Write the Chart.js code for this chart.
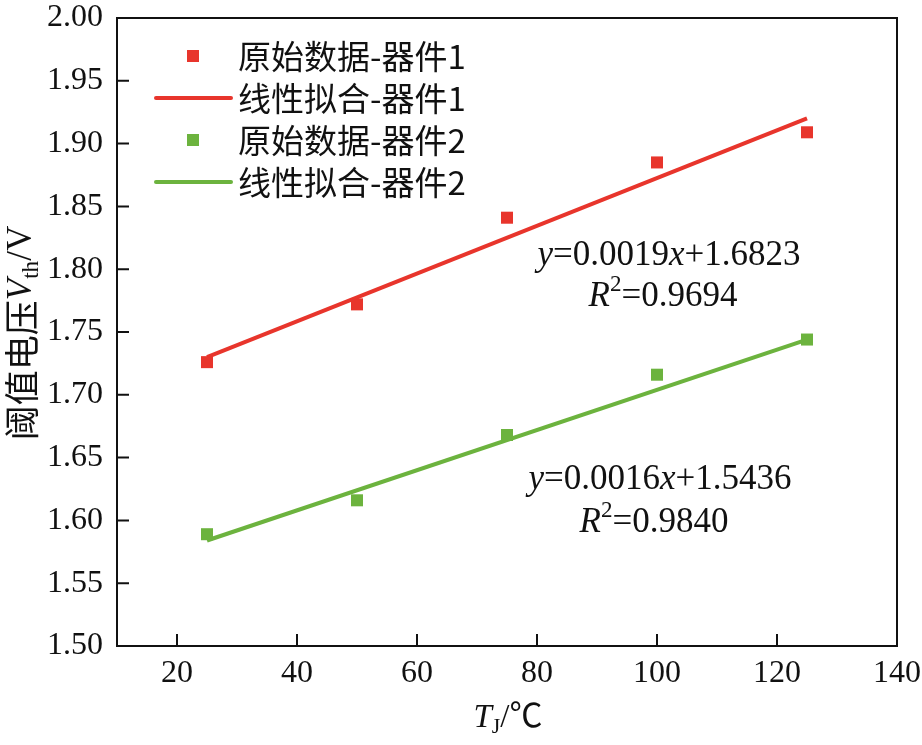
<!DOCTYPE html>
<html lang="zh">
<head>
  <meta charset="utf-8">
  <title>阈值电压 vs 结温</title>
  <style>
    * { box-sizing:border-box; margin:0; padding:0 }
    body { background:#fff; }
    #wrap { width:922px; height:745px; }
  </style>
</head>
<body>
  <div id="wrap"><canvas id="chart" width="922" height="745"></canvas></div>

  <script src="https://cdn.jsdelivr.net/npm/chart.js@4.4.1/dist/chart.umd.min.js"></script>
  <script>
  // data
  const temps     = [25, 50, 75, 100, 125];
  const device1   = [1.726, 1.772, 1.841, 1.885, 1.909];
  const device2   = [1.589, 1.616, 1.668, 1.716, 1.744];
  const fitX      = [25, 125];
  const fit1      = [1.730, 1.920];
  const fit2      = [1.584, 1.744];
  const xTicks    = [20, 40, 60, 80, 100, 120, 140];
  const yTicks    = [1.50, 1.55, 1.60, 1.65, 1.70, 1.75, 1.80, 1.85, 1.90, 1.95, 2.00];
  const labels    = ['原始数据-器件1', '线性拟合-器件1', '原始数据-器件2', '线性拟合-器件2'];
  const eqText1   = ['0.0019', '1.6823', '0.9694'];
  const eqText2   = ['0.0016', '1.5436', '0.9840'];

  const RED   = '#e8352c';
  const GREEN = '#6cb33e';
  const SERIF = "'Liberation Serif', 'Times New Roman', 'Noto Sans CJK SC', serif";
  const CJK   = "'Noto Sans CJK SC', 'Liberation Serif', serif";

  const pts = (xs, ys) => xs.map((x, i) => ({ x, y: ys[i] }));

  // draws a run of text pieces; returns width (measure only if draw false)
  function runText(ctx, parts, x, y, size, draw) {
    let w = 0;
    parts.forEach(p => {
      const s = p.sub || p.sup ? size * 0.66 : size;
      ctx.font = (p.italic ? 'italic ' : '') + s + 'px ' + (p.cjk ? CJK : SERIF);
      const dy = p.sub ? size * 0.28 : p.sup ? -size * 0.34 : 0;
      if (draw) ctx.fillText(p.t, x + w, y + dy);
      w += ctx.measureText(p.t).width;
    });
    return w;
  }
  function centered(ctx, parts, cx, cy, size) {
    ctx.textBaseline = 'middle';
    ctx.textAlign = 'left';
    const w = runText(ctx, parts, 0, 0, size, false);
    runText(ctx, parts, cx - w / 2, cy, size, true);
  }

  const decor = {
    id: 'decor',
    afterDraw(chart) {
      const { ctx, chartArea: a, scales: { x, y } } = chart;
      ctx.save();
      ctx.fillStyle = '#111';
      ctx.strokeStyle = '#111';

      // frame + inward ticks
      ctx.lineWidth = 2;
      ctx.strokeRect(a.left, a.top, a.right - a.left, a.bottom - a.top);
      ctx.beginPath();
      x.ticks.forEach(t => {
        const px = x.getPixelForValue(t.value);
        if (px > a.left + 2 && px < a.right - 2) { ctx.moveTo(px, a.bottom); ctx.lineTo(px, a.bottom - 12); }
      });
      y.ticks.forEach(t => {
        const py = y.getPixelForValue(t.value);
        if (py > a.top + 2 && py < a.bottom - 2) { ctx.moveTo(a.left, py); ctx.lineTo(a.left + 12, py); }
      });
      ctx.stroke();

      // legend
      const rows = [56, 98, 140, 182];
      chart.data.datasets.forEach((d, k) => {
        const ry = rows[k];
        if (d.showLine) {
          ctx.strokeStyle = d.borderColor;
          ctx.lineWidth = 4;
          ctx.lineCap = 'round';
          ctx.beginPath(); ctx.moveTo(156, ry); ctx.lineTo(231, ry); ctx.stroke();
        } else {
          ctx.fillStyle = d.backgroundColor;
          ctx.fillRect(187, ry - 6, 12, 12);
        }
        ctx.fillStyle = '#111';
        ctx.font = '33px ' + CJK;
        ctx.textBaseline = 'middle';
        ctx.textAlign = 'left';
        ctx.fillText(d.label, 238, ry);
      });

      // fit equations
      const eq = (t, cx, cy1, cy2) => {
        centered(ctx, [{ t: 'y', italic: true }, { t: '=' + t[0] }, { t: 'x', italic: true }, { t: '+' + t[1] }],
          x.getPixelForValue(cx), y.getPixelForValue(cy1), 35);
        centered(ctx, [{ t: 'R', italic: true }, { t: '2', sup: true }, { t: '=' + t[2] }],
          x.getPixelForValue(cx - 1), y.getPixelForValue(cy2), 35);
      };
      eq(eqText1, 102, 1.811, 1.778);
      eq(eqText2, 100.5, 1.632, 1.598);

      // axis titles
      centered(ctx, [{ t: 'T', italic: true }, { t: 'J', sub: true }, { t: '/℃' }], 508, 718, 33);
      ctx.translate(22, 333);
      ctx.rotate(-Math.PI / 2);
      centered(ctx, [{ t: '阈值电压', cjk: true }, { t: 'V', italic: true }, { t: 'th', sub: true }, { t: '/V' }], 0, 0, 35);
      ctx.restore();
    }
  };

  new Chart(document.getElementById('chart'), {
    type: 'scatter',
    data: {
      datasets: [
        { label: labels[0], data: pts(temps, device1), backgroundColor: RED, borderWidth: 0,
          pointStyle: 'rect', pointRadius: 8.5, order: 0 },
        { label: labels[1], data: pts(fitX, fit1), showLine: true, borderColor: RED, borderWidth: 4,
          pointRadius: 0, order: 1 },
        { label: labels[2], data: pts(temps, device2), backgroundColor: GREEN, borderWidth: 0,
          pointStyle: 'rect', pointRadius: 8.5, order: 0 },
        { label: labels[3], data: pts(fitX, fit2), showLine: true, borderColor: GREEN, borderWidth: 4,
          pointRadius: 0, order: 1 }
      ]
    },
    options: {
      responsive: false,
      animation: false,
      layout: { padding: { top: 18, right: 25, left: 0, bottom: 0 } },
      plugins: { legend: { display: false }, tooltip: { enabled: false } },
      scales: {
        x: {
          type: 'linear', min: 10, max: 140,
          afterBuildTicks: s => { s.ticks = xTicks.map(v => ({ value: v })); },
          afterFit: s => { s.height = 99; s.paddingLeft = 0; s.paddingRight = 0; },
          grid: { display: false, drawTicks: false },
          border: { display: false },
          ticks: { color: '#111', padding: 8, font: { family: SERIF, size: 32 } }
        },
        y: {
          type: 'linear', min: 1.5, max: 2.0,
          afterBuildTicks: s => { s.ticks = yTicks.map(v => ({ value: v })); },
          afterFit: s => { s.width = 117; s.paddingTop = 0; s.paddingBottom = 0; },
          grid: { display: false, drawTicks: false },
          border: { display: false },
          ticks: { color: '#111', padding: 14, font: { family: SERIF, size: 32 },
                   callback: v => v.toFixed(2) }
        }
      }
    },
    plugins: [decor]
  });
  </script>
</body>
</html>
